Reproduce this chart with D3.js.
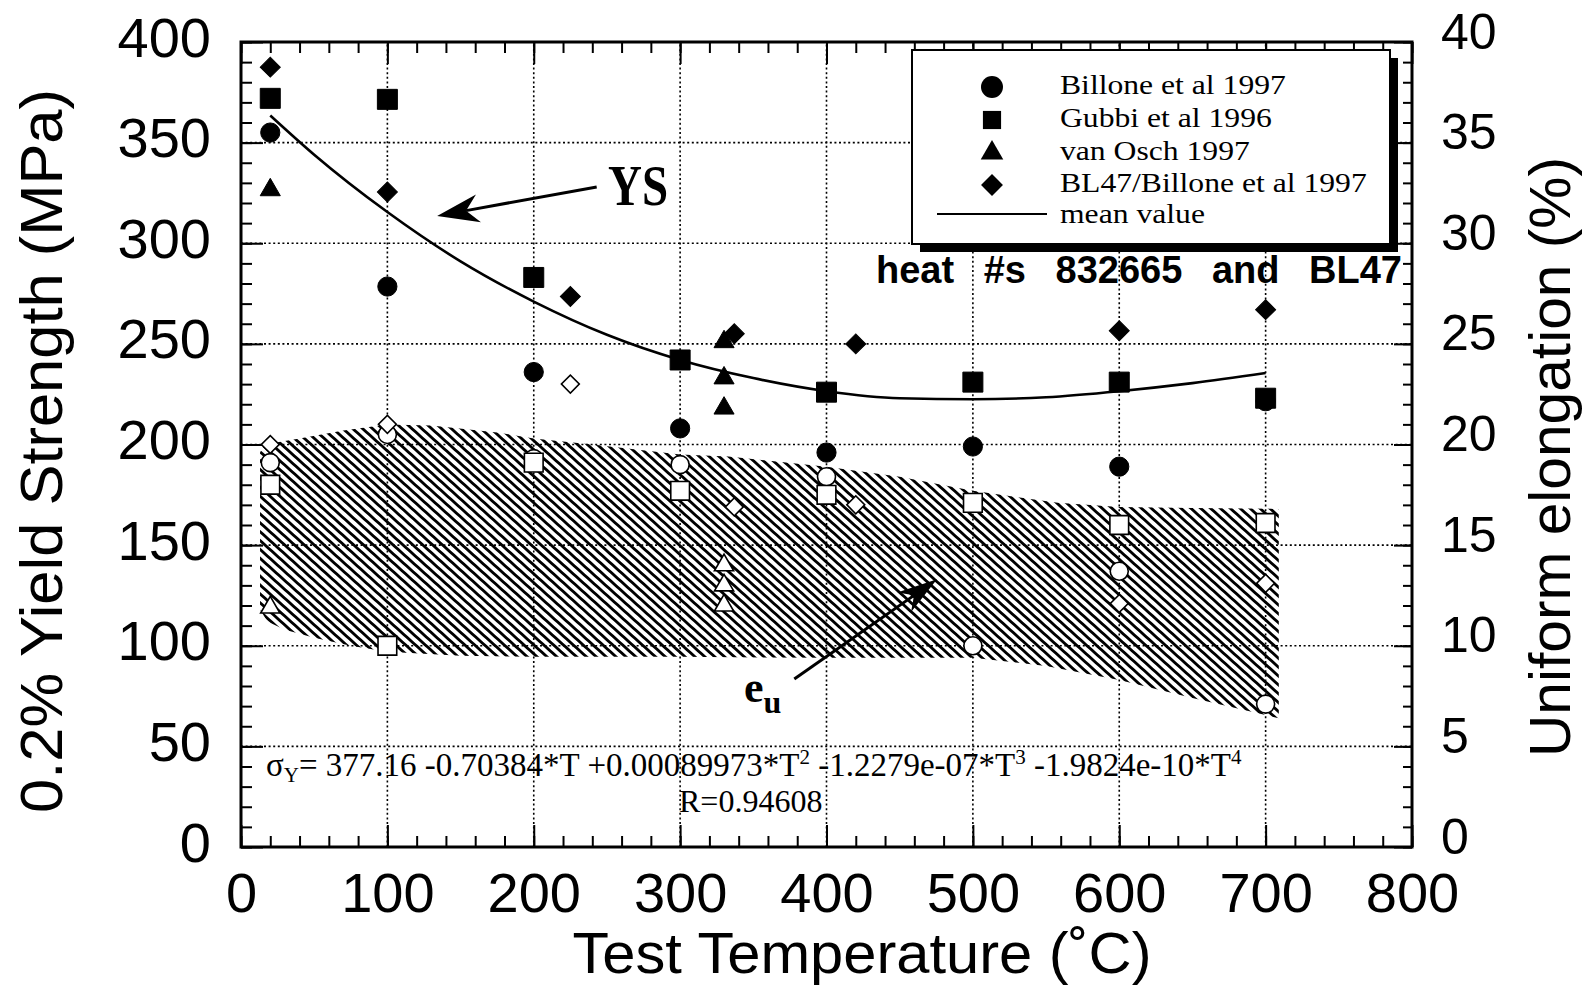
<!DOCTYPE html>
<html>
<head>
<meta charset="utf-8">
<script src="https://cdn.jsdelivr.net/npm/d3@7"></script>
<style>
	body { margin: 0; background: #fff; }
	svg { display: block; }
</style>
</head>
<body>
<div id="chart"></div>
<script>
// test temperature (C), yield strength (MPa, filled) and uniform elongation (%, open)
const billoneT = [20, 100, 200, 300, 400, 500, 600, 700];
const billoneYS = [355, 278.5, 236, 208, 196, 199, 189, 221.5];
const billoneEu = [19.1, 20.5, 19.3, 19.0, 18.4, 10.0, 13.7, 7.1];

const gubbiT = [20, 100, 200, 300, 400, 500, 600, 700];
const gubbiYS = [372, 371.5, 283, 242, 226, 231, 231, 223];
const gubbiEu = [18.0, 10.0, 19.1, 17.7, 17.5, 17.1, 16.0, 16.1];

const vanOschT = [20, 330, 330, 330];
const vanOschYS = [326.5, 251, 233, 218];
const vanOschEu = [11.9, 14.0, 13.0, 12.0];

const bl47T = [20, 100, 225, 337, 420, 600, 700];
const bl47YS = [387.5, 325.5, 273.5, 255, 250, 256.5, 267];
const bl47Eu = [20.0, 21.0, 23.0, 16.9, 17.0, 12.1, 13.1];

// mean value curve
const meanT = [20, 50, 100, 150, 200, 250, 300, 350, 400, 450, 500, 550, 600, 650, 700];
const meanYS = [363.5, 344, 315.5, 291, 271, 254.5, 242, 233, 226.5, 223, 222.5, 223.5, 226.5, 230.5, 235.5];

// e_u scatter band, upper and lower edge (%)
const bandUpperT = [13, 16, 40, 70, 100, 130, 175, 200, 240, 300, 333, 400, 450, 500, 558, 600, 650, 709];
const bandUpperEu = [19.6, 20.0, 20.3, 20.7, 21.0, 20.95, 20.6, 20.3, 20.0, 19.5, 19.4, 18.9, 18.4, 17.7, 17.1, 16.9, 16.85, 16.8];
const bandLowerT = [13, 18, 30, 50, 75, 100, 150, 200, 300, 400, 500, 550, 600, 650, 709];
const bandLowerEu = [11.8, 11.2, 10.8, 10.4, 10.0, 9.7, 9.5, 9.45, 9.45, 9.4, 9.4, 9.0, 8.3, 7.4, 6.4];

const xTicks = [0, 100, 200, 300, 400, 500, 600, 700, 800];
const yTicks = [0, 50, 100, 150, 200, 250, 300, 350, 400];
const yRightTicks = [0, 5, 10, 15, 20, 25, 30, 35, 40];
const legendLabels = ["Billone et al 1997", "Gubbi et al 1996", "van Osch 1997", "BL47/Billone et al 1997", "mean value"];

const width = 1593;
const height = 989;
const sans = "'Liberation Sans', Arial, Helvetica, sans-serif";
const serif = "'Liberation Serif', 'Times New Roman', serif";

const svg = d3
	.select("#chart")
	.append("svg")
	.attr("width", width)
	.attr("height", height);

const x = d3.scaleLinear().domain([0, 800]).range([241, 1412]);
const y = d3.scaleLinear().domain([0, 400]).range([847, 42]);
const yR = d3.scaleLinear().domain([0, 40]).range([847, 42]);

// hatch for the elongation band
const pat = svg
	.append("defs")
	.append("pattern")
	.attr("id", "hatch")
	.attr("patternUnits", "userSpaceOnUse")
	.attr("width", 20)
	.attr("height", 6.6)
	.attr("patternTransform", "rotate(42)");
pat.append("line")
	.attr("x1", 0)
	.attr("x2", 20)
	.attr("y1", 3.3)
	.attr("y2", 3.3)
	.attr("stroke", "#000")
	.attr("stroke-width", 2.8);

const bandPts = bandUpperT
	.map((t, i) => [x(t), yR(bandUpperEu[i])])
	.concat(bandLowerT.map((t, i) => [x(t), yR(bandLowerEu[i])]).reverse());
svg.append("path")
	.attr("d", d3.line().curve(d3.curveLinearClosed)(bandPts))
	.attr("fill", "url(#hatch)");

// dotted grid
const grid = svg.append("g").attr("stroke", "#000").attr("stroke-width", 1.6).attr("stroke-dasharray", "2,2.6");
grid.selectAll(".gx")
	.data(xTicks.slice(1, -1))
	.join("line")
	.attr("x1", (d) => x(d))
	.attr("x2", (d) => x(d))
	.attr("y1", y(0))
	.attr("y2", y(400));
grid.selectAll(".gy")
	.data(yTicks.slice(1, -1))
	.join("line")
	.attr("x1", x(0))
	.attr("x2", x(800))
	.attr("y1", (d) => y(d))
	.attr("y2", (d) => y(d));

// axes, ticks pointing inward
function styleAxis(g, size) {
	g.select(".domain").remove();
	g.selectAll("line").attr("stroke", "#000").attr("stroke-width", 2);
	g.selectAll("text").attr("font-family", sans).attr("font-size", size).attr("fill", "#000");
}

svg.append("g")
	.attr("transform", `translate(0, ${y(0)})`)
	.call(d3.axisBottom(x).tickValues(d3.range(0, 801, 20)).tickSize(-11).tickFormat(""))
	.call((g) => styleAxis(g, 0));
svg.append("g")
	.attr("transform", `translate(0, ${y(0)})`)
	.call(d3.axisBottom(x).tickValues(xTicks).tickSize(-22).tickPadding(25).tickFormat(d3.format("d")))
	.call((g) => styleAxis(g, 56));

svg.append("g")
	.attr("transform", `translate(0, ${y(400)})`)
	.call(d3.axisTop(x).tickValues(d3.range(0, 801, 20)).tickSize(-11).tickFormat(""))
	.call((g) => styleAxis(g, 0));
svg.append("g")
	.attr("transform", `translate(0, ${y(400)})`)
	.call(d3.axisTop(x).tickValues(xTicks).tickSize(-22).tickFormat(""))
	.call((g) => styleAxis(g, 0));

svg.append("g")
	.attr("transform", `translate(${x(0)}, 0)`)
	.call(d3.axisLeft(y).tickValues(d3.range(0, 401, 10)).tickSize(-11).tickFormat(""))
	.call((g) => styleAxis(g, 0));
svg.append("g")
	.attr("transform", `translate(${x(0)}, 0)`)
	.call(d3.axisLeft(y).tickValues(yTicks).tickSize(-22).tickPadding(30))
	.call((g) => styleAxis(g, 56))
	.call((g) => g.selectAll("text").attr("dy", "0.25em"));

svg.append("g")
	.attr("transform", `translate(${x(800)}, 0)`)
	.call(d3.axisRight(yR).tickValues(d3.range(0, 41, 1)).tickSize(-9).tickFormat(""))
	.call((g) => styleAxis(g, 0));
svg.append("g")
	.attr("transform", `translate(${x(800)}, 0)`)
	.call(d3.axisRight(yR).tickValues(yRightTicks).tickSize(-18).tickPadding(29))
	.call((g) => styleAxis(g, 50))
	.call((g) => g.selectAll("text").attr("dy", "0.12em"));

svg.append("rect")
	.attr("x", x(0))
	.attr("y", y(400))
	.attr("width", x(800) - x(0))
	.attr("height", y(0) - y(400))
	.attr("fill", "none")
	.attr("stroke", "#000")
	.attr("stroke-width", 3);

// mean value curve
svg.append("path")
	.datum(meanT.map((t, i) => [t, meanYS[i]]))
	.attr("d", d3.line().x((d) => x(d[0])).y((d) => y(d[1])).curve(d3.curveMonotoneX))
	.attr("fill", "none")
	.attr("stroke", "#000")
	.attr("stroke-width", 2.6);

// markers
const shapes = {
	circle: { type: d3.symbolCircle, size: 290, rot: 0 },
	square: { type: d3.symbolSquare, size: 400, rot: 0 },
	triangle: { type: d3.symbolTriangle, size: 175, rot: 0 },
	diamond: { type: d3.symbolSquare, size: 200, rot: 45 },
};
const openShapes = {
	circle: { type: d3.symbolCircle, size: 255, rot: 0 },
	square: { type: d3.symbolSquare, size: 350, rot: 0 },
	triangle: { type: d3.symbolTriangle, size: 160, rot: 0 },
	diamond: { type: d3.symbolSquare, size: 160, rot: 45 },
};

function drawMarks(ts, vs, scale, shape, open) {
	const s = open ? openShapes[shape] : shapes[shape];
	svg.append("g")
		.selectAll("path")
		.data(ts.map((t, i) => [t, vs[i]]))
		.join("path")
		.attr("d", d3.symbol().type(s.type).size(s.size))
		.attr("transform", (d) => `translate(${x(d[0])}, ${scale(d[1])}) rotate(${s.rot})`)
		.attr("fill", open ? "#fff" : "#000")
		.attr("stroke", "#000")
		.attr("stroke-width", open ? 1.6 : 1);
}

drawMarks(billoneT, billoneEu, yR, "circle", true);
drawMarks(gubbiT, gubbiEu, yR, "square", true);
drawMarks(vanOschT, vanOschEu, yR, "triangle", true);
drawMarks(bl47T, bl47Eu, yR, "diamond", true);
drawMarks(billoneT, billoneYS, y, "circle", false);
drawMarks(gubbiT, gubbiYS, y, "square", false);
drawMarks(vanOschT, vanOschYS, y, "triangle", false);
drawMarks(bl47T, bl47YS, y, "diamond", false);

// annotation arrows (data units)
function arrow(from, to, scale, len, half) {
	const x0 = x(from[0]), y0 = scale(from[1]);
	const x1 = x(to[0]), y1 = scale(to[1]);
	const L = Math.hypot(x1 - x0, y1 - y0);
	const ux = (x1 - x0) / L, uy = (y1 - y0) / L;
	const bx = x1 - ux * len, by = y1 - uy * len;
	const nx = x1 - ux * len * 0.7, ny = y1 - uy * len * 0.7;
	svg.append("line")
		.attr("x1", x0).attr("y1", y0)
		.attr("x2", nx).attr("y2", ny)
		.attr("stroke", "#000")
		.attr("stroke-width", 3);
	svg.append("path")
		.attr("d", `M${x1},${y1}L${bx - uy * half},${by + ux * half}L${nx},${ny}L${bx + uy * half},${by - ux * half}Z`)
		.attr("fill", "#000");
}
arrow([243, 328], [134, 313.6], y, 42, 14);
arrow([378, 83.5], [475.5, 133], y, 40, 12);

svg.append("text")
	.attr("x", 608)
	.attr("y", 205)
	.attr("font-family", serif)
	.attr("font-weight", "bold")
	.attr("font-size", 58)
	.attr("textLength", 60)
	.attr("lengthAdjust", "spacingAndGlyphs")
	.text("YS");

const eu = svg.append("text")
	.attr("x", 744)
	.attr("y", 702)
	.attr("font-family", serif)
	.attr("font-weight", "bold")
	.attr("font-size", 44)
	.text("e");
eu.append("tspan").attr("dy", 11).attr("font-size", 32).text("u");

svg.append("text")
	.attr("x", 876)
	.attr("y", 283)
	.attr("font-family", sans)
	.attr("font-weight", "bold")
	.attr("font-size", 38)
	.attr("word-spacing", 19)
	.text("heat #s 832665 and BL47");

// fit equation
const eq = svg.append("text")
	.attr("x", 266)
	.attr("y", 776)
	.attr("font-family", serif)
	.attr("font-size", 33)
	.attr("fill", "#000");
eq.append("tspan").text("σ");
eq.append("tspan").attr("dy", 6).attr("font-size", 21).text("Y");
eq.append("tspan").attr("dy", -6).text("= 377.16 -0.70384*T +0.00089973*T");
eq.append("tspan").attr("dy", -12).attr("font-size", 21).text("2");
eq.append("tspan").attr("dy", 12).text(" -1.2279e-07*T");
eq.append("tspan").attr("dy", -12).attr("font-size", 21).text("3");
eq.append("tspan").attr("dy", 12).text(" -1.9824e-10*T");
eq.append("tspan").attr("dy", -12).attr("font-size", 21).text("4");

svg.append("text")
	.attr("x", 679)
	.attr("y", 812)
	.attr("font-family", serif)
	.attr("font-size", 32)
	.text("R=0.94608");

// legend
const lg = svg.append("g");
lg.append("rect")
	.attr("x", 920)
	.attr("y", 58)
	.attr("width", 478)
	.attr("height", 194)
	.attr("fill", "#000");
lg.append("rect")
	.attr("x", 912)
	.attr("y", 50)
	.attr("width", 478)
	.attr("height", 194)
	.attr("fill", "#fff")
	.attr("stroke", "#000")
	.attr("stroke-width", 2);

const legendShapes = ["circle", "square", "triangle", "diamond"];
const legendSizes = [380, 330, 220, 240];
const legendRows = [87, 120, 153, 185, 214];
legendShapes.forEach((k, i) => {
	const s = shapes[k];
	lg.append("path")
		.attr("d", d3.symbol().type(s.type).size(legendSizes[i]))
		.attr("transform", `translate(992, ${legendRows[i]}) rotate(${s.rot})`)
		.attr("fill", "#000");
});
lg.append("line")
	.attr("x1", 937)
	.attr("x2", 1047)
	.attr("y1", legendRows[4])
	.attr("y2", legendRows[4])
	.attr("stroke", "#000")
	.attr("stroke-width", 2);
// slightly shorter glyphs, stretched to the reference width, so the rows do not collide
lg.selectAll(".lt")
	.data(legendLabels)
	.join("text")
	.attr("x", 1060)
	.attr("y", (d, i) => legendRows[i] + (i === 4 ? 9 : 7))
	.attr("font-family", serif)
	.attr("font-size", 28)
	.text((d) => d)
	.each(function () {
		const w = this.getComputedTextLength();
		d3.select(this).attr("textLength", w * 1.13).attr("lengthAdjust", "spacingAndGlyphs");
	});

// axis titles
svg.append("text")
	.attr("transform", "translate(62, 451) rotate(-90)")
	.attr("text-anchor", "middle")
	.attr("font-family", sans)
	.attr("font-size", 60)
	.attr("textLength", 724)
	.attr("lengthAdjust", "spacingAndGlyphs")
	.text("0.2% Yield Strength (MPa)");

svg.append("text")
	.attr("transform", "translate(1570, 457) rotate(-90)")
	.attr("text-anchor", "middle")
	.attr("font-family", sans)
	.attr("font-size", 58)
	.attr("textLength", 600)
	.attr("lengthAdjust", "spacingAndGlyphs")
	.text("Uniform elongation (%)");

svg.append("text")
	.attr("x", 862)
	.attr("y", 973)
	.attr("text-anchor", "middle")
	.attr("font-family", sans)
	.attr("font-size", 58)
	.attr("textLength", 579)
	.attr("lengthAdjust", "spacingAndGlyphs")
	.text("Test Temperature (˚C)");
</script>
</body>
</html>
